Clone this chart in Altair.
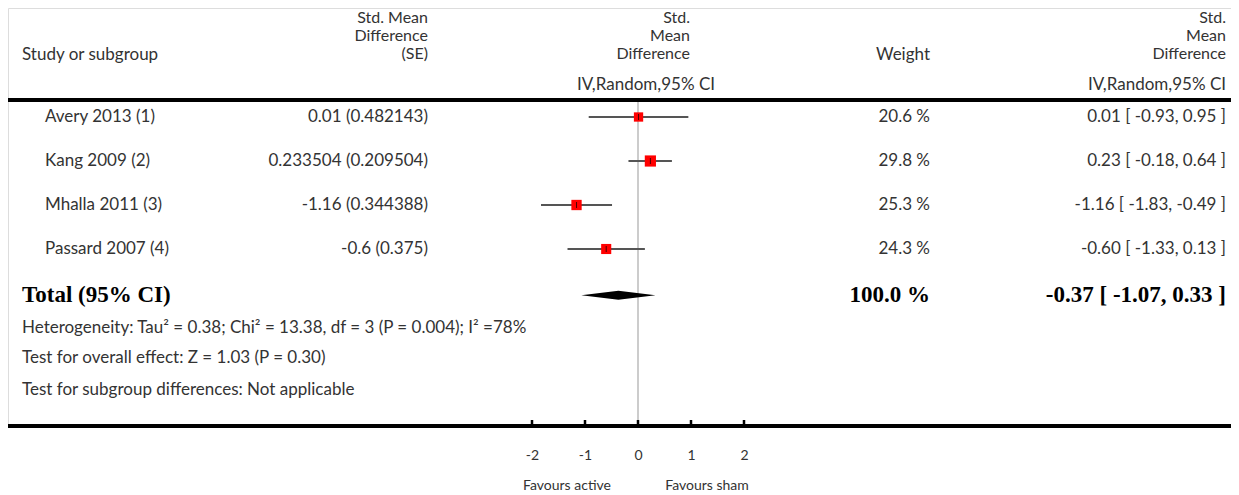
import altair as alt
import pandas as pd

# ---------------- data ----------------
studies = ["Avery 2013 (1)", "Kang 2009 (2)", "Mhalla 2011 (3)", "Passard 2007 (4)"]
smd = [0.01, 0.233504, -1.16, -0.6]
smd_se_text = ["0.01 (0.482143)", "0.233504 (0.209504)", "-1.16 (0.344388)", "-0.6 (0.375)"]
ci_low = [-0.93, -0.18, -1.83, -1.33]
ci_high = [0.95, 0.64, -0.49, 0.13]
weights = [20.6, 29.8, 25.3, 24.3]
weight_text = ["20.6 %", "29.8 %", "25.3 %", "24.3 %"]
ci_text = ["0.01 [ -0.93, 0.95 ]", "0.23 [ -0.18, 0.64 ]", "-1.16 [ -1.83, -0.49 ]", "-0.60 [ -1.33, 0.13 ]"]

total_est = -0.37
total_low = -1.07
total_high = 0.33
total_weight_text = "100.0 %"
total_ci_text = "-0.37 [ -1.07, 0.33 ]"

tick_values = [-2, -1, 0, 1, 2]

heterogeneity = "Heterogeneity: Tau\u00b2 = 0.38; Chi\u00b2 = 13.38, df = 3 (P = 0.004); I\u00b2 =78%"
overall = "Test for overall effect: Z = 1.03 (P = 0.30)"
subgroup = "Test for subgroup differences: Not applicable"

# ---------------- layout constants ----------------
W, H = 1223, 418
ZERO_PX = 630
PX_PER_UNIT = 53
X_DOMAIN = [-ZERO_PX / PX_PER_UNIT, (W - ZERO_PX) / PX_PER_UNIT]
ROW0_PX, ROW_STEP = 109, 44
Y_DOMAIN = [1 - ROW0_PX / ROW_STEP, 1 + (H - ROW0_PX) / ROW_STEP]
TOTAL_ROW = 5.05
DIAMOND_HALF = 4.5 / ROW_STEP

FONT = "Lato"
SERIF = "Liberation Serif"
TXT = "#333333"

df = pd.DataFrame({
    "study": studies, "smd": smd, "smdse": smd_se_text, "lo": ci_low, "hi": ci_high,
    "w": weights, "wt": weight_text, "ci": ci_text, "row": list(range(1, len(studies) + 1)),
})
tot = pd.DataFrame({"est": [total_est], "row": [TOTAL_ROW], "wt": [total_weight_text], "ci": [total_ci_text],
                    "label": ["Total (95% CI)"]})
dia = pd.DataFrame({
    "x": [total_low, total_est, total_high],
    "y1": [TOTAL_ROW, TOTAL_ROW - DIAMOND_HALF, TOTAL_ROW],
    "y2": [TOTAL_ROW, TOTAL_ROW + DIAMOND_HALF, TOTAL_ROW],
})
ticks = pd.DataFrame({"t": tick_values})

xscale = alt.Scale(domain=X_DOMAIN, nice=False, zero=False)
yscale = alt.Scale(domain=Y_DOMAIN, nice=False, zero=False, reverse=True)
xaxis = alt.Axis(values=tick_values, domain=False, ticks=False, grid=False, title=None,
                 labelFont=FONT, labelFontSize=14, labelColor="#333333", labelPadding=22,
                 labelExpr="'' + datum.value")

def X(field):
    return alt.X(field, type="quantitative", scale=xscale, axis=xaxis)

def Y(field):
    return alt.Y(field, type="quantitative", scale=yscale, axis=None)

base = alt.Chart(df)

# lines
top_line = alt.Chart(ticks).mark_rule(color="black", strokeWidth=3.5).encode(
    x=alt.value(0), x2=alt.value(W), y=alt.value(92))
bottom_line = alt.Chart(ticks).mark_rule(color="black", strokeWidth=3.5).encode(
    x=alt.value(0), x2=alt.value(W), y=alt.value(H))
tick_marks = alt.Chart(ticks).mark_rule(color="black", strokeWidth=2.5).encode(
    x=X("t"), y=alt.value(H - 6), y2=alt.value(H))
ref_line = alt.Chart(ticks).transform_filter("datum.t == 0").mark_rule(color="#999999", strokeWidth=1).encode(
    x=X("t"), y=alt.value(93), y2=alt.value(H))

# forest marks
ci_lines = base.mark_rule(color="#555555", strokeWidth=2).encode(x=X("lo"), x2="hi", y=Y("row"))
squares = base.mark_square(color="#ff0000", opacity=1, filled=True).encode(
    x=X("smd"), y=Y("row"),
    size=alt.Size("w:Q", scale=alt.Scale(domain=[0, 30], range=[0, 126]), legend=None))
centers = base.mark_tick(orient="vertical", color="black", size=6, thickness=1).encode(
    x=X("smd"), y=Y("row"))
diamond = alt.Chart(dia).mark_area(color="black").encode(x=X("x"), y=Y("y1"), y2="y2")

# row text
def row_text(field, xpx, align):
    return base.mark_text(align=align, baseline="middle", font=FONT, fontSize=17, color=TXT).encode(
        x=alt.value(xpx), y=Y("row"), text=field + ":N")

t_study = row_text("study", 37, "left")
t_smd = row_text("smdse", 420, "right")
t_w = row_text("wt", 922, "right")
t_ci = row_text("ci", 1218, "right")

tot_base = alt.Chart(tot)
def tot_text(field, xpx, align):
    return tot_base.mark_text(align=align, baseline="middle", font=SERIF, fontSize=23, fontWeight="bold",
                              color="black").encode(x=alt.value(xpx), y=Y("row"), text=field + ":N")

t_tot_label = tot_text("label", 14, "left")
t_tot_w = tot_text("wt", 922, "right")
t_tot_ci = tot_text("ci", 1218, "right")

# header / footer text
def fixed_text(txt, xpx, ypx, align, size=16, line_height=18):
    return alt.Chart(ticks).transform_filter("datum.t == 0").mark_text(
        align=align, baseline="middle", font=FONT, fontSize=size, color=TXT,
        lineBreak="\n", lineHeight=line_height, text=txt).encode(x=alt.value(xpx), y=alt.value(ypx))

headers = [
    fixed_text("Study or subgroup", 14, 47, "left", 17),
    fixed_text("Std. Mean\nDifference\n(SE)", 420, 10, "right"),
    fixed_text("Std.\nMean\nDifference", 682, 10, "right"),
    fixed_text("IV,Random,95% CI", 707, 77, "right", 17),
    fixed_text("Weight", 922, 47, "right", 17),
    fixed_text("Std.\nMean\nDifference", 1218, 10, "right"),
    fixed_text("IV,Random,95% CI", 1218, 77, "right", 17),
    fixed_text(heterogeneity, 14, 320, "left", 17),
    fixed_text(overall, 14, 350, "left", 17),
    fixed_text(subgroup, 14, 382, "left", 17),
    fixed_text("Favours active", 559, 478, "center", 14),
    fixed_text("Favours sham", 699, 478, "center", 14),
]

chart = alt.layer(
    ref_line, top_line, bottom_line, tick_marks, ci_lines, squares, centers, diamond,
    t_study, t_smd, t_w, t_ci, t_tot_label, t_tot_w, t_tot_ci, *headers
).properties(
    width=W, height=H,
    autosize=alt.AutoSizeParams(type="none"),
    padding={"left": 0, "top": 0, "right": 0, "bottom": 69},
).configure_view(stroke=None).configure(background="white")

chart.save("out.html", embed_options={"renderer": "svg", "actions": False})
